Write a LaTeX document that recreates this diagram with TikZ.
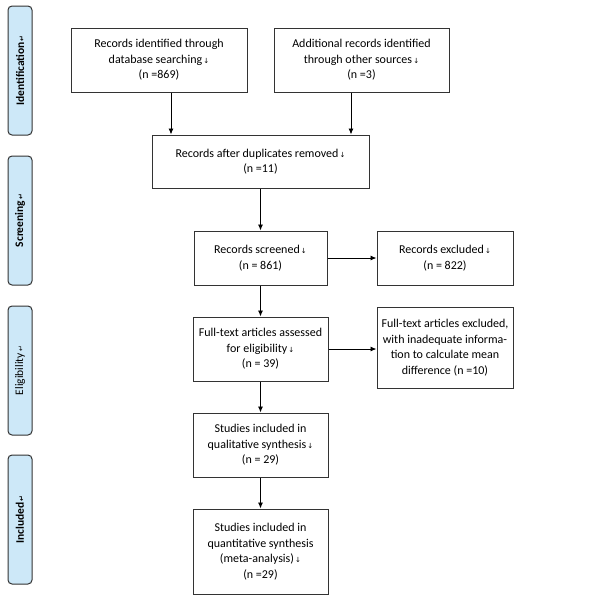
\documentclass[tikz,border=0pt]{standalone}
\usepackage{fontspec}
\setmainfont{Carlito}
\newfontfamily\symfont{DejaVu Sans}
\usetikzlibrary{arrows.meta}
\newcommand\pmk{{\symfont\fontsize{7pt}{7pt}\selectfont\,↓}}
\newcommand\rmk{{\symfont\fontsize{7pt}{7pt}\selectfont\,↵}}
\definecolor{sideblue}{HTML}{CDE8F8}
\definecolor{edge}{HTML}{333333}
\tikzset{
  fbox/.style={draw=edge, line width=1pt, fill=white, align=center, inner sep=2pt,
    font=\fontsize{12pt}{15.5pt}\selectfont},
  side/.style={draw=edge, line width=1pt, fill=sideblue, rounded corners=4pt,
    minimum width=24pt, minimum height=129pt, inner sep=0pt},
  sidetext/.style={rotate=90, font=\fontsize{11.5pt}{13pt}\selectfont},
  arr/.style={draw=black, line width=0.9pt, -{Latex[length=6pt,width=5pt]}}
}
\begin{document}
\begin{tikzpicture}[x=1pt,y=-1pt]
\useasboundingbox (0,0) rectangle (600,600);
% side labels
\node[side] (s1) at (20,70.5) {};
\node[sidetext] (t1) at (s1.center) {\bfseries Identification\rmk};
\node[side] (s2) at (20,220.5) {};
\node[sidetext] (t2) at (s2.center) {\bfseries Screening\rmk};
\node[side] (s3) at (20,370.5) {};
\node[sidetext] (t3) at (s3.center) {Eligibility\rmk};
\node[side] (s4) at (20,519.5) {};
\node[sidetext] (t4) at (s4.center) {\bfseries Included\rmk};
% boxes
\node[fbox, minimum width=176pt, minimum height=64pt] (b1) at (159,60)
  {Records identified through\\ database searching\pmk\\ (n =869)};
\node[fbox, minimum width=175pt, minimum height=64pt] (b2) at (361.5,60)
  {Additional records identified\\ through other sources\pmk\\ (n =3)};
\node[fbox, minimum width=217pt, minimum height=53pt] (b3) at (260.5,161.5)
  {Records after duplicates removed\pmk\\ (n =11)};
\node[fbox, minimum width=133pt, minimum height=54pt] (b4) at (260.5,258)
  {Records screened\pmk\\ (n = 861)};
\node[fbox, minimum width=136pt, minimum height=54pt] (b5) at (445,258)
  {Records excluded\pmk\\ (n = 822)};
\node[fbox, minimum width=135pt, minimum height=64pt] (b6) at (260.5,349)
  {Full-text articles assessed\\ for eligibility\pmk\\ (n = 39)};
\node[fbox, minimum width=136pt, minimum height=81pt] (b7) at (445,347.5)
  {Full-text articles excluded,\\ with inadequate informa-\\ tion to calculate mean\\ difference (n =10)};
\node[fbox, minimum width=135pt, minimum height=64pt] (b8) at (260.5,445)
  {Studies included in\\ qualitative synthesis\pmk\\ (n = 29)};
\node[fbox, minimum width=135pt, minimum height=85pt] (b9) at (260.5,551.5)
  {Studies included in\\ quantitative synthesis\\ (meta-analysis)\pmk\\ (n =29)};
% connectors
\draw[arr] ([xshift=12pt]b1.south) -- ([xshift=12pt]b1.south |- b3.north);
\draw[arr] ([xshift=-10.5pt]b2.south) -- ([xshift=-10.5pt]b2.south |- b3.north);
\draw[arr] (b3.south) -- (b4.north);
\draw[arr] (b4.east) -- (b5.west);
\draw[arr] (b4.south) -- (b6.north);
\draw[arr] (b6.east) -- (b6.east -| b7.west);
\draw[arr] (b6.south) -- (b8.north);
\draw[arr] (b8.south) -- (b9.north);
\end{tikzpicture}
\end{document}
